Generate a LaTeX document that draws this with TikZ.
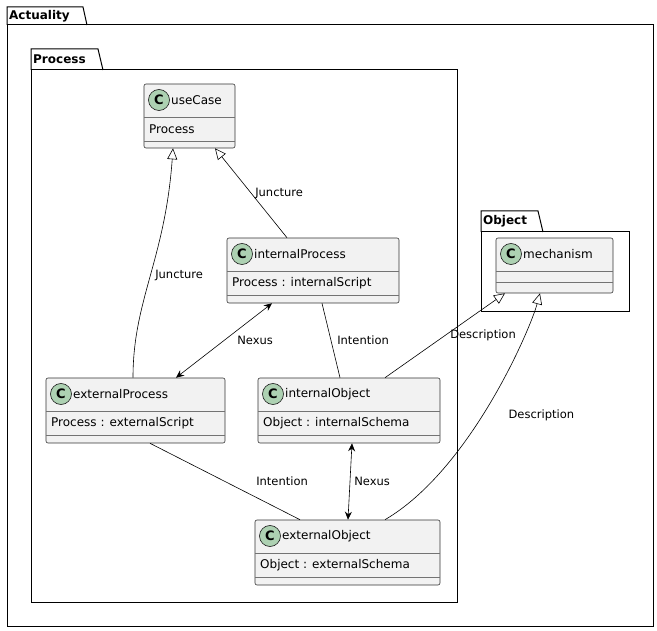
\documentclass[tikz,border=0pt]{standalone}
\usepackage{fontspec}
\setmainfont{DejaVu Sans}
\usetikzlibrary{arrows.meta}
\begin{document}
\begin{tikzpicture}[x=1pt,y=-1pt,
  cls/.style={draw=black!80,fill=black!5,rounded corners=2pt,inner sep=0,line width=0.6pt},
  lbl/.style={font=\fontsize{11.5}{13}\selectfont,inner sep=1pt},
  pkg/.style={draw=black,line width=1pt},
  gen/.style={-{Triangle[open,length=11pt,width=10pt]},line width=0.6pt},
  nex/.style={{Stealth[length=8pt,width=7pt]}-{Stealth[length=8pt,width=7pt]},line width=0.6pt},
  ln/.style={line width=0.6pt}]
\useasboundingbox (0,0) rectangle (657,631);
\newcommand\umlc[8]{%
  \node[cls,minimum width={(#4-#2)*1pt},minimum height={(#5-#3)*1pt}] (#1) at ({(#2+#4)/2},{(#3+#5)/2}) {};
  \draw[line width=0.5pt,black!55] (#2,#3+33) -- (#4,#3+33);
  \draw[line width=0.5pt,black!55] (#2,#3+#8) -- (#4,#3+#8);
  \fill[fill={rgb,255:red,173;green,209;blue,178},draw=black!90,line width=0.6pt] (#2+15,#3+16) circle (10.5);
  \node[font=\bfseries\fontsize{13}{13}\selectfont] at (#2+15,#3+16) {C};
  \node[anchor=west,inner sep=0,font=\fontsize{12}{14}\selectfont] at (#2+27,#3+16) {#6};
  \node[anchor=west,inner sep=0,font=\fontsize{12}{14}\selectfont] at (#2+5,#3+45) {#7};
}
% packages
\draw[pkg] (7,25) -- (7,7) -- (83,7) -- (87,25);
\draw[pkg] (7,25) rectangle (653,626);
\node[anchor=west,font=\bfseries\fontsize{12}{14}\selectfont,inner sep=0] at (9,16) {Actuality};
\draw[pkg] (31,70) -- (31,49) -- (98,49) -- (103,70);
\draw[pkg] (31,70) rectangle (457,602);
\node[anchor=west,font=\bfseries\fontsize{12}{14}\selectfont,inner sep=0] at (33,59) {Process};
\draw[pkg] (481,232) -- (481,211) -- (538,211) -- (543,232);
\draw[pkg] (481,232) rectangle (629,312);
\node[anchor=west,font=\bfseries\fontsize{12}{14}\selectfont,inner sep=0] at (483,221) {Object};
% classes
\umlc{useCase}{144}{84}{235}{148}{useCase}{Process}{57}
\umlc{internalProcess}{227}{238}{399}{303}{internalProcess}{Process : internalScript}{57}
\umlc{externalProcess}{46}{378}{225}{443}{externalProcess}{Process : externalScript}{57}
\umlc{internalObject}{258}{378}{440}{443}{internalObject}{Object : internalSchema}{57}
\umlc{externalObject}{255}{520}{440}{585}{externalObject}{Object : externalSchema}{57}
\umlc{mechanism}{496}{238}{613}{293}{mechanism}{}{44}
% edges
\draw[gen] (externalProcess.north -| 133,0) .. controls (133,300) and (165,260) .. (useCase.south -| 173,0)
  node[lbl,pos=0.5,right=4pt] {Juncture};
\draw[gen] (internalProcess.north -| 287,0) -- (useCase.south -| 215,0)
  node[lbl,pos=0.5,right=3pt] {Juncture};
\draw[nex] (internalProcess.south -| 272,0) -- (externalProcess.north -| 176,0)
  node[lbl,pos=0.5,right=12pt] {Nexus};
\draw[ln] (internalProcess.south -| 322,0) -- (internalObject.north -| 340,0)
  node[lbl,pos=0.5,right=5pt] {Intention};
\draw[gen] (internalObject.north -| 385,0) -- (mechanism.south -| 505,0)
  node[lbl,pos=0.5,right=4pt] {Description};
\draw[gen] (externalObject.north -| 385,0) .. controls (470,470) and (530,330) .. (mechanism.south -| 540,0)
  node[lbl,pos=0.45,right=25pt] {Description};
\draw[nex] (internalObject.south -| 352,0) -- (externalObject.north -| 348,0)
  node[lbl,pos=0.5,right=3pt] {Nexus};
\draw[ln] (externalProcess.south -| 150,0) -- (externalObject.north -| 300,0)
  node[lbl,pos=0.5,right=30pt] {Intention};
\end{tikzpicture}
\end{document}
